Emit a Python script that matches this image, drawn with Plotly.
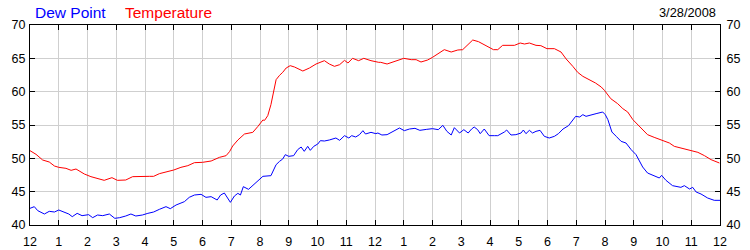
import plotly.graph_objects as go

# hours since midnight
temp_hours = [0.0, 0.21, 0.44, 0.67, 0.85, 1.0, 1.25, 1.43, 1.6, 1.89, 2.12, 2.35, 2.58, 2.85, 3.04, 3.33, 3.57, 4.15,
              4.3, 4.5, 4.73, 5.0, 5.25, 5.49, 5.72, 6.0, 6.3, 6.59, 6.82, 6.94, 7.05, 7.23, 7.46, 7.75, 7.92, 8.1,
              8.16, 8.27, 8.38, 8.47, 8.56, 8.68, 8.79, 8.91, 9.05, 9.2, 9.49, 9.72, 9.95, 10.24, 10.41, 10.59, 10.77,
              10.94, 11.06, 11.22, 11.43, 11.61, 11.86, 12.13, 12.2, 12.42, 12.62, 12.8, 13.0, 13.26, 13.43, 13.6,
              13.83, 14.0, 14.2, 14.41, 14.65, 14.88, 15.05, 15.22, 15.4, 15.6, 15.86, 16.12, 16.27, 16.44, 16.85,
              17.05, 17.2, 17.37, 17.6, 17.77, 17.98, 18.24, 18.47, 18.65, 18.88, 19.05, 19.23, 19.46, 19.67, 19.87,
              19.98, 20.2, 20.44, 20.62, 20.79, 20.97, 21.14, 21.31, 21.48, 21.71, 22.0, 22.24, 22.41, 22.75, 23.0,
              23.23, 23.46, 23.69, 23.98]
temp_values = [51.15, 50.6, 49.75, 49.45, 48.85, 48.65, 48.5, 48.2, 48.4, 47.65, 47.25, 47.0, 46.7, 47.1, 46.7, 46.75,
               47.25, 47.3, 47.3, 47.7, 47.95, 48.25, 48.65, 48.9, 49.35, 49.4, 49.6, 50.15, 50.4, 51.0, 51.85, 52.75,
               53.65, 53.9, 54.75, 55.75, 55.7, 56.4, 58.05, 60.05, 61.8, 62.45, 62.9, 63.55, 63.9, 63.7, 63.1, 63.55,
               64.15, 64.65, 64.15, 63.8, 64.05, 64.7, 64.3, 65.0, 64.65, 65.0, 64.65, 64.4, 64.4, 64.15, 64.45, 64.8,
               65.0, 64.8, 64.8, 64.45, 64.75, 65.15, 65.7, 66.3, 65.95, 66.25, 66.3, 67.05, 67.75, 67.5, 66.95, 66.3,
               66.3, 66.95, 66.95, 67.3, 67.15, 67.3, 66.95, 66.9, 66.45, 66.45, 65.95, 64.9, 63.8, 62.9, 62.3, 61.8,
               61.3, 60.7, 60.2, 58.95, 58.2, 57.45, 56.95, 55.8, 55.05, 54.15, 53.55, 53.15, 52.7, 52.3, 51.8, 51.45,
               51.15, 50.9, 50.4, 49.8, 49.3]

dew_hours = [0.0, 0.15, 0.27, 0.5, 0.67, 0.85, 1.0, 1.2, 1.35, 1.47, 1.64, 1.81, 2.04, 2.18, 2.35, 2.53, 2.76, 2.95,
             3.12, 3.33, 3.51, 3.68, 3.91, 4.1, 4.3, 4.5, 4.73, 4.88, 5.08, 5.37, 5.54, 5.72, 5.95, 6.12, 6.3, 6.51,
             6.63, 6.76, 6.97, 7.11, 7.23, 7.32, 7.42, 7.6, 7.8, 8.0, 8.1, 8.38, 8.56, 8.68, 8.79, 8.88, 9.0, 9.17,
             9.31, 9.43, 9.54, 9.66, 9.75, 9.87, 10.01, 10.1, 10.24, 10.41, 10.64, 10.77, 10.94, 11.09, 11.19, 11.33,
             11.46, 11.58, 11.67, 11.86, 12.03, 12.1, 12.24, 12.42, 12.62, 12.85, 13.02, 13.2, 13.39, 13.56, 13.8,
             14.0, 14.2, 14.36, 14.5, 14.65, 14.76, 14.94, 15.09, 15.24, 15.36, 15.45, 15.57, 15.66, 15.8, 15.97,
             16.15, 16.27, 16.5, 16.58, 16.73, 16.9, 17.08, 17.16, 17.25, 17.37, 17.48, 17.6, 17.74, 17.89, 18.06,
             18.24, 18.38, 18.54, 18.73, 18.88, 18.98, 19.12, 19.23, 19.34, 19.52, 19.69, 19.92, 20.01, 20.1, 20.24,
             20.39, 20.56, 20.73, 20.91, 21.08, 21.31, 21.48, 21.71, 21.89, 21.97, 22.12, 22.35, 22.64, 22.76, 22.94,
             23.05, 23.17, 23.34, 23.57, 23.8, 24.0]
dew_values = [42.5, 42.75, 42.15, 41.65, 42.05, 41.95, 42.25, 41.95, 41.65, 41.25, 41.75, 41.4, 41.55, 41.1, 41.5,
              41.4, 41.65, 41.0, 41.1, 41.35, 41.65, 41.35, 41.5, 41.75, 41.95, 42.35, 42.75, 42.45, 43.0, 43.5,
              44.15, 44.5, 44.6, 44.15, 44.25, 43.75, 44.5, 44.8, 43.4, 44.35, 44.75, 44.5, 45.75, 45.35, 46.1, 46.8,
              47.3, 47.4, 49.05, 49.55, 49.9, 50.55, 50.3, 50.4, 51.3, 51.7, 51.05, 51.8, 51.2, 51.8, 52.15, 52.65,
              52.6, 52.75, 53.05, 52.7, 53.4, 53.05, 53.4, 53.2, 53.55, 54.15, 53.65, 53.9, 53.7, 53.8, 53.5, 53.55,
              54.0, 54.55, 54.15, 54.4, 54.5, 54.2, 54.35, 54.45, 54.3, 54.95, 54.05, 53.5, 54.6, 53.8, 54.3, 53.8,
              54.4, 54.7, 54.3, 53.7, 54.4, 53.4, 53.4, 53.4, 53.95, 54.25, 53.5, 53.55, 53.8, 54.25, 53.7, 54.2,
              53.8, 54.05, 54.2, 53.3, 53.05, 53.3, 53.7, 54.4, 54.9, 55.7, 56.3, 56.2, 56.55, 56.3, 56.55, 56.7,
              56.95, 56.55, 55.8, 53.95, 53.3, 52.55, 52.3, 51.3, 50.55, 48.7, 47.8, 47.4, 47.05, 47.45, 46.7, 45.9,
              45.65, 45.9, 45.4, 45.65, 44.95, 44.65, 44.05, 43.7, 43.7]

hour_ticks = list(range(0, 25))
hour_labels = ["12", "1", "2", "3", "4", "5", "6", "7", "8", "9", "10", "11",
               "12", "1", "2", "3", "4", "5", "6", "7", "8", "9", "10", "11", "12"]
y_ticks = [40, 45, 50, 55, 60, 65, 70]

font_family = "Liberation Sans, Arial, sans-serif"

fig = go.Figure()
fig.add_trace(go.Scatter(x=temp_hours, y=temp_values, mode="lines",
                         line=dict(color="#FF0000", width=1), name="Temperature", yaxis="y"))
fig.add_trace(go.Scatter(x=dew_hours, y=dew_values, mode="lines",
                         line=dict(color="#0000FF", width=1), name="Dew Point", yaxis="y2"))

axis_common = dict(showline=True, linecolor="black", linewidth=1, ticks="inside", ticklen=5,
                   tickcolor="black", tickwidth=1, automargin=False,
                   tickfont=dict(family=font_family, size=12.5, color="#000000"),
                   zeroline=False)

W, H = 750, 250
l, r, t, b = 30, 30, 25, 25
pw, ph = W - l - r, H - t - b


def px(xp):
    return (xp - l) / pw


def py(yp):
    return (H - b - yp) / ph


fig.update_layout(
    width=W, height=H,
    margin=dict(l=l, r=r, t=t, b=b, autoexpand=False),
    paper_bgcolor="white", plot_bgcolor="white",
    showlegend=False,
    xaxis=dict(range=[0, 24], tickvals=hour_ticks, ticktext=hour_labels, showgrid=True,
               gridcolor="#CFCFCF", gridwidth=1, mirror="ticks", ticklabelstandoff=5, **axis_common),
    yaxis=dict(range=[40, 70], tickvals=y_ticks, showgrid=True, gridcolor="#CFCFCF", gridwidth=1,
               mirror="ticks", ticklabelstandoff=1, **axis_common),
    yaxis2=dict(range=[40, 70], tickvals=y_ticks, overlaying="y", side="right", showgrid=False,
                ticklabelstandoff=3, **axis_common),
)

fig.add_annotation(text="Dew Point", x=px(33), y=py(12), xref="paper", yref="paper", xanchor="left",
                   yanchor="middle", showarrow=False, font=dict(family=font_family, size=15.5, color="#0000FF"))
fig.add_annotation(text="Temperature", x=px(123), y=py(12), xref="paper", yref="paper", xanchor="left",
                   yanchor="middle", showarrow=False, font=dict(family=font_family, size=15.5, color="#FF0000"))
fig.add_annotation(text="3/28/2008", x=px(718), y=py(12), xref="paper", yref="paper", xanchor="right",
                   yanchor="middle", showarrow=False, font=dict(family=font_family, size=12.8, color="#000000"))

fig.write_html("out.html")
